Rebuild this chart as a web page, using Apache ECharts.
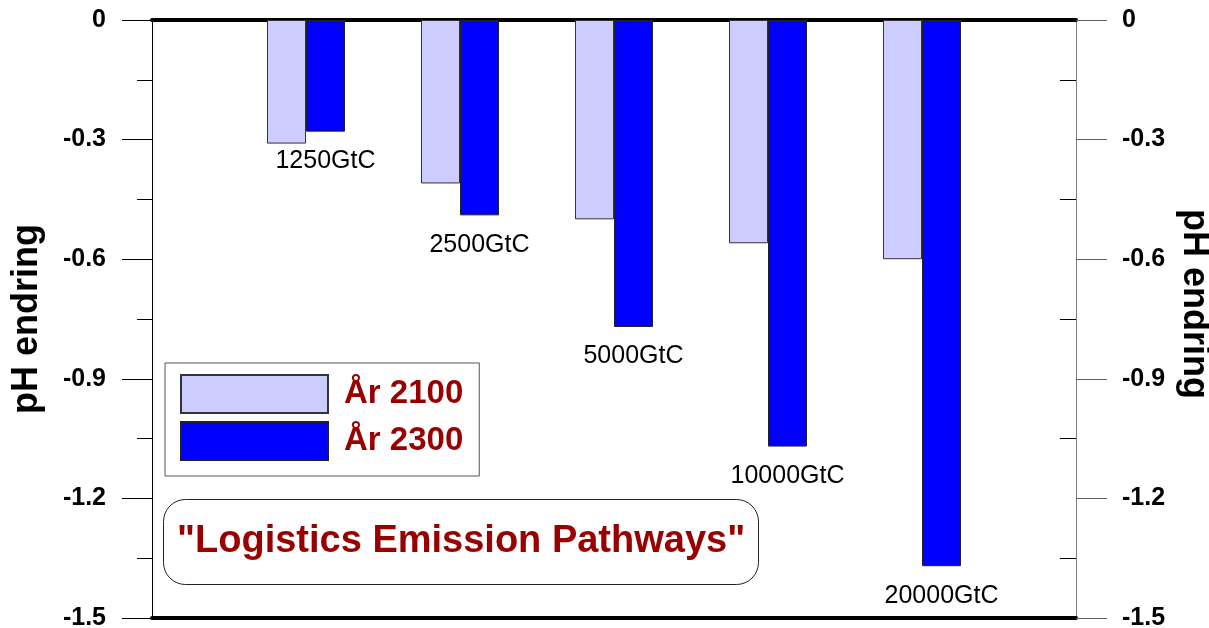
<!DOCTYPE html>
<html>
<head>
<meta charset="utf-8">
<script src="https://cdn.jsdelivr.net/npm/echarts@6/dist/echarts.min.js"></script>
<style>html,body{margin:0;padding:0;background:#fff;}#chart{width:1209px;height:628px;}</style>
</head>
<body>
<div id="chart"></div>
<script>
const categories = ['1250GtC', '2500GtC', '5000GtC', '10000GtC', '20000GtC'];
const year2100 = [-0.31, -0.41, -0.50, -0.56, -0.60];
const year2300 = [-0.28, -0.49, -0.77, -1.07, -1.37];
const seriesNames = ['År 2100', 'År 2300'];
const yTicks = { min: -1.5, max: 0, interval: 0.3 };
const axisName = 'pH endring';
const boxTitle = '"Logistics Emission Pathways"';

const FONT = '"Liberation Sans", Arial, sans-serif';
// pad categories so bars sit on interior grid points
const axisCats = [''].concat(categories, ['']);
const pad = arr => ['-'].concat(arr, ['-']);

const chart = echarts.init(document.getElementById('chart'));
chart.setOption({
  animation: false,
  backgroundColor: '#ffffff',
  textStyle: { fontFamily: FONT },
  grid: { left: 152, right: 133, top: 20, bottom: 10, containLabel: false, outerBoundsMode: 'none' },
  title: {
    text: boxTitle,
    left: 163, top: 499,
    padding: [24, 14, 24, 14],
    borderColor: '#222', borderWidth: 1, borderRadius: 22,
    backgroundColor: '#fff',
    textStyle: { fontFamily: FONT, fontSize: 38, fontWeight: 'bold', color: '#990000', lineHeight: 38 }
  },
  legend: {
    data: seriesNames,
    orient: 'vertical',
    left: 165, top: 363,
    padding: [11, 16, 15, 15],
    itemWidth: 147, itemHeight: 38, itemGap: 7,
    icon: 'rect',
    borderColor: '#555', borderWidth: 1, backgroundColor: '#fff',
    textStyle: { fontFamily: FONT, fontSize: 33, fontWeight: 'bold', color: '#990000', padding: [0, 0, 0, 11] }
  },
  xAxis: [
    {
      type: 'category', data: axisCats, boundaryGap: false, position: 'bottom',
      axisLine: { show: true, onZero: false, lineStyle: { color: '#000', width: 4 } },
      axisTick: { show: false }, axisLabel: { show: false }, splitLine: { show: false }
    },
    {
      type: 'category', data: axisCats, boundaryGap: false, position: 'top',
      axisLine: { show: true, onZero: false, lineStyle: { color: '#000', width: 4 } },
      axisTick: { show: false }, axisLabel: { show: false }, splitLine: { show: false }
    }
  ],
  yAxis: [
    {
      type: 'value', position: 'left', min: yTicks.min, max: yTicks.max, interval: yTicks.interval,
      name: axisName, nameLocation: 'middle', nameGap: 107, nameRotate: 90,
      nameTextStyle: { fontFamily: FONT, fontSize: 36, fontWeight: 'bold', color: '#000' },
      axisLine: { show: true, lineStyle: { color: '#000', width: 1 } },
      axisTick: { show: true, length: 30, lineStyle: { color: '#000' } },
      minorTick: { show: true, splitNumber: 2, length: 15, lineStyle: { color: '#000' } },
      axisLabel: { margin: 46, fontFamily: FONT, fontSize: 25, fontWeight: 'bold', color: '#000', padding: [5, 0, 0, 0] },
      splitLine: { show: false }
    },
    {
      type: 'value', position: 'right', min: yTicks.min, max: yTicks.max, interval: yTicks.interval,
      name: axisName, nameLocation: 'middle', nameGap: 92, nameRotate: -90,
      nameTextStyle: { fontFamily: FONT, fontSize: 36, fontWeight: 'bold', color: '#000', padding: [0, 30, 0, 0] },
      axisLine: { show: true, lineStyle: { color: '#808080', width: 1 } },
      axisTick: { show: true, length: 31, lineStyle: { color: '#606060' } },
      axisLabel: { margin: 46, fontFamily: FONT, fontSize: 25, fontWeight: 'bold', color: '#000', padding: [5, 0, 0, 0] },
      splitLine: { show: false }
    },
    {
      type: 'value', position: 'right', min: yTicks.min, max: yTicks.max, interval: yTicks.interval,
      axisLine: { show: false },
      axisTick: { show: false, inside: true },
      minorTick: { show: true, splitNumber: 2, length: 16, lineStyle: { color: '#000' } },
      axisLabel: { show: false },
      splitLine: { show: false }
    }
  ],
  series: [
    {
      name: seriesNames[0], type: 'bar', data: pad(year2100),
      barWidth: 39, barGap: '0%',
      itemStyle: { color: '#ccccff', borderColor: '#333', borderWidth: 1 }
    },
    {
      name: seriesNames[1], type: 'bar', data: pad(year2300),
      barWidth: 39, barGap: '0%',
      itemStyle: { color: '#0000ff', borderColor: '#222', borderWidth: 1 },
      label: {
        show: true, position: 'bottom', distance: 17,
        formatter: p => p.name,
        fontFamily: FONT, fontSize: 25, color: '#000'
      }
    }
  ]
});
</script>
</body>
</html>
